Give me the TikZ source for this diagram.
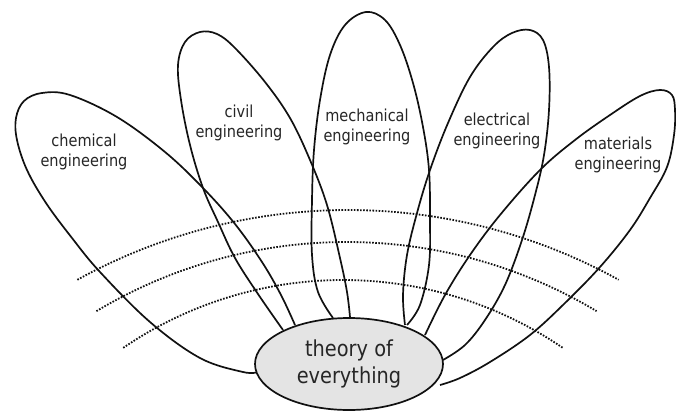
\documentclass[tikz,border=0pt]{standalone}
\usepackage{fontspec}
\setmainfont[FakeStretch=0.88]{DejaVu Sans}
\usetikzlibrary{shapes.geometric}
\definecolor{inkline}{HTML}{111111}
\definecolor{inktext}{HTML}{262626}
\definecolor{corefill}{HTML}{E4E4E4}
\begin{document}
\begin{tikzpicture}[x=1pt,y=-1pt,
  petal/.style={draw=inkline, line width=1.7pt, line join=round},
  dotline/.style={draw=inkline, line width=1.8pt, dash pattern=on 1.6pt off 1.5pt},
  lab/.style={text=inktext, align=center, inner sep=0pt, font=\fontsize{16.5}{20.5}\selectfont},
  core/.style={ellipse, draw=inkline, fill=corefill, line width=1.7pt, minimum width=188pt, minimum height=92pt, inner sep=0pt, text=inktext, align=center, font=\fontsize{22}{27}\selectfont}]
\useasboundingbox (0,0) rectangle (676,412);
\fill[white] (0,0) rectangle (676,412);

% dotted arcs
\draw[dotline] plot[domain=-118.9:-61.1, samples=80] ({348+560*cos(\x)}, {770+560*sin(\x)});
\draw[dotline] plot[domain=-120.9:-59.1, samples=80] ({346.5+487*cos(\x)}, {729+487*sin(\x)});
\draw[dotline] plot[domain=-124.3:-55.7, samples=80] ({343+390*cos(\x)}, {670+390*sin(\x)});

% chemical petal
\draw[petal] plot[smooth, tension=0.6] coordinates {(258,372) (243,372) (200,358) (150,322) (100,272) (72,238) (46,203) (27,170) (17,140) (16,118) (24,101) (42,93) (70,95) (117,117) (165,152) (203,188) (235,224) (262,262) (281,295) (295,325)};
% civil petal
\draw[petal] plot[smooth, tension=0.6] coordinates {(283,330) (258,294) (235,258) (218,222) (203,188) (190,145) (181,100) (178,65) (185,42) (200,32) (217,34) (235,48) (265,82) (290,118) (310,160) (327,205) (340,258) (347,292) (350,317)};
% mechanical petal
\draw[petal] plot[smooth, tension=0.6] coordinates {(333,318) (318,292) (312,255) (312,200) (314,150) (320,100) (330,55) (345,25) (366,12) (385,20) (400,45) (413,83) (423,127) (429,170) (430,220) (429,265) (420,305) (407,325)};
% electrical petal
\draw[petal] plot[smooth, tension=0.6] coordinates {(405,325) (403,295) (407,255) (417,213) (430,170) (448,123) (470,77) (493,47) (512,33) (530,30) (543,40) (549,67) (549,110) (544,155) (535,195) (522,240) (505,285) (485,320) (465,345) (443,360)};
% materials petal
\draw[petal] plot[smooth, tension=0.6] coordinates {(425,335) (445,295) (470,255) (500,215) (540,170) (575,140) (610,115) (640,96) (660,90) (672,95) (675,110) (674,135) (667,167) (650,198) (630,230) (600,267) (565,303) (530,335) (490,362) (460,378) (440,385)};

% centre
\node[core] (toe) at (349,364) {theory of\\everything};

% labels
\node[lab] (chem) at (84,152) {chemical\\engineering};
\node[lab] (civil) at (239,123) {civil\\engineering};
\node[lab] (mech) at (367,127) {mechanical\\engineering};
\node[lab] (elec) at (497,131) {electrical\\engineering};
\node[lab] (mat) at (618,155) {materials\\engineering};
\end{tikzpicture}
\end{document}
